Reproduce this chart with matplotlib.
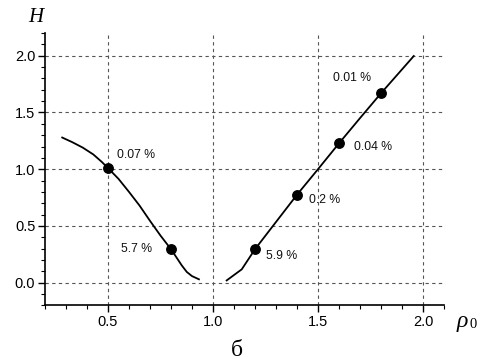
import matplotlib
matplotlib.use("Agg")
import matplotlib.pyplot as plt
from matplotlib.ticker import MultipleLocator

# Data
left_x = [0.282, 0.33, 0.38, 0.43, 0.47, 0.5, 0.55, 0.6, 0.65, 0.7, 0.75,
          0.8, 0.827, 0.851, 0.875, 0.9, 0.933]
left_y = [1.279, 1.238, 1.19, 1.13, 1.065, 1.01, 0.915, 0.80, 0.68, 0.545,
          0.415, 0.295, 0.22, 0.153, 0.095, 0.058, 0.030]
right_x = [1.065, 1.137, 1.2, 1.3, 1.4, 1.5, 1.6, 1.7, 1.8, 1.956]
right_y = [0.020, 0.118, 0.295, 0.535, 0.775, 1.0, 1.228, 1.45, 1.669, 1.997]
marker_x = [0.5, 0.8, 1.2, 1.4, 1.6, 1.8]
marker_y = [1.01, 0.295, 0.295, 0.775, 1.228, 1.669]
marker_labels = ["0.07 %", "5.7 %", "5.9 %", "0.2 %", "0.04 %", "0.01 %"]
x_ticks = [0.5, 1.0, 1.5, 2.0]
y_ticks = [0.0, 0.5, 1.0, 1.5, 2.0]

# Label placement (offsets in pixels, alignment)
label_offsets = [(9, 13, "left"), (-19, 0, "right"), (11, -7, "left"),
                 (12, -5, "left"), (15, -4, "left"), (-10, 15, "right")]

W, H = 498, 359
fig = plt.figure(figsize=(W / 100, H / 100), dpi=100)
ax = fig.add_axes([45 / W, 1 - 305.4 / H, (444 - 45) / W, (305.4 - 33) / H])

ax.plot(left_x, left_y, color="black", lw=1.3, zorder=3,
        solid_joinstyle="round")
ax.plot(right_x, right_y, color="black", lw=1.3, zorder=3,
        solid_joinstyle="round")
ax.plot(marker_x, marker_y, "o", color="black", ms=6.8, zorder=4)

px = 0.72
for x, y, lab, (dx, dy, ha) in zip(marker_x, marker_y, marker_labels, label_offsets):
    ax.annotate(lab, (x, y), xytext=(dx * px, dy * px), textcoords="offset points",
                ha=ha, va="center", fontsize=8.8, family="Liberation Sans",
                color="#111111")

ax.set_xlim(0.2, 2.1)
ax.set_ylim(-0.2, 2.2)
ax.set_xticks(x_ticks)
ax.set_yticks(y_ticks)
ax.set_xticklabels([f"{v:.1f}" for v in x_ticks])
ax.set_yticklabels([f"{v:.1f}" for v in y_ticks])
ax.xaxis.set_minor_locator(MultipleLocator(0.1))
ax.yaxis.set_minor_locator(MultipleLocator(0.1))
ax.tick_params(which="major", direction="out", length=5, width=1, pad=2,
               labelsize=10.5, colors="black")
ax.tick_params(which="minor", direction="out", length=3, width=0.8)
for lab in ax.get_xticklabels() + ax.get_yticklabels():
    lab.set_family("Liberation Sans")

ax.grid(True, which="major", linestyle=(0, (3, 3)), color="#555555", lw=0.8)
ax.set_axisbelow(True)
for s in ["top", "right"]:
    ax.spines[s].set_visible(False)
for s in ["left", "bottom"]:
    ax.spines[s].set_linewidth(1.2)

fig.text(36 / W, 1 - 17 / H, "H", fontsize=15, family="Liberation Serif",
         style="italic", ha="center", va="center")
fig.text(457 / W, 1 - 322 / H, "ρ", fontsize=17, family="Liberation Serif",
         style="italic", ha="left", va="center")
fig.text(469.5 / W, 1 - 324 / H, "0", fontsize=10.5, family="Liberation Serif",
         ha="left", va="center")
fig.text(237 / W, 1 - 350 / H, "б", fontsize=17, family="Liberation Serif",
         ha="center", va="center")

fig.savefig("out.png", dpi=100)
